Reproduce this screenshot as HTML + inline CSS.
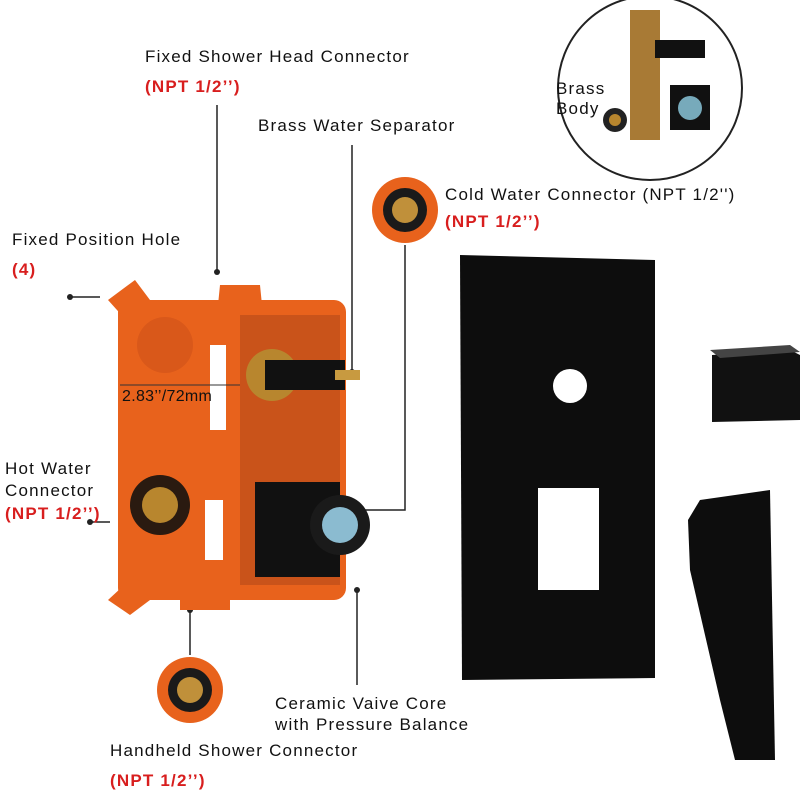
<!DOCTYPE html>
<html><head><meta charset="utf-8"><style>
body{margin:0;width:800px;height:800px;background:#fff;overflow:hidden;font-family:"Liberation Sans",sans-serif;}
.t{position:absolute;font-size:17px;color:#111;white-space:nowrap;letter-spacing:1.2px}
.r{color:#d81e1e;font-weight:bold}
</style></head><body>
<svg width="800" height="800" style="position:absolute;left:0;top:0">
 <g stroke="#222" stroke-width="1.5" fill="none">
  <line x1="217" y1="105" x2="217" y2="270"/>
  <line x1="352" y1="145" x2="352" y2="370"/>
  <line x1="70" y1="297" x2="100" y2="297"/>
  <line x1="90" y1="522" x2="110" y2="522"/>
  <polyline points="405,245 405,510 340,510"/>
  <line x1="190" y1="612" x2="190" y2="655"/>
  <line x1="357" y1="590" x2="357" y2="685"/>
 </g>
 <g fill="#222"><circle cx="217" cy="272" r="3"/><circle cx="352" cy="372" r="3"/><circle cx="70" cy="297" r="3"/><circle cx="357" cy="590" r="3"/><circle cx="190" cy="610" r="3"/><circle cx="90" cy="522" r="3"/></g>
 <g fill="#e8621c">
  <rect x="118" y="300" width="228" height="300" rx="12"/>
  <polygon points="108,300 135,280 150,300 135,330"/>
  <polygon points="220,285 260,285 262,305 218,305"/>
  <polygon points="108,600 135,575 150,600 130,615"/>
  <rect x="180" y="585" width="50" height="25"/>
 </g>
 <rect x="240" y="315" width="100" height="270" fill="#c9531a"/>
 <circle cx="165" cy="345" r="28" fill="#d9581a"/>
 <circle cx="160" cy="505" r="30" fill="#2a1a10"/><circle cx="160" cy="505" r="18" fill="#b8862e"/>
 <circle cx="272" cy="375" r="26" fill="#b8862e"/>
 <rect x="265" y="360" width="80" height="30" fill="#111"/>
 <rect x="335" y="370" width="25" height="10" fill="#c89a40"/>
 <rect x="255" y="482" width="85" height="95" fill="#111"/>
 <circle cx="340" cy="525" r="30" fill="#1a1a1a"/><circle cx="340" cy="525" r="18" fill="#8bbbd0"/>
 <rect x="210" y="345" width="16" height="85" fill="#fff"/>
 <rect x="205" y="500" width="18" height="60" fill="#fff"/>
 <line x1="120" y1="385" x2="240" y2="385" stroke="#333"/>
 <circle cx="405" cy="210" r="33" fill="#e8621c"/><circle cx="405" cy="210" r="22" fill="#1a1a1a"/><circle cx="405" cy="210" r="13" fill="#c0903a"/>
 <circle cx="190" cy="690" r="33" fill="#e8621c"/><circle cx="190" cy="690" r="22" fill="#1a1a1a"/><circle cx="190" cy="690" r="13" fill="#c0903a"/>
 <polygon points="460,255 655,260 655,678 462,680" fill="#0d0d0d"/>
 <circle cx="570" cy="386" r="17" fill="#fff"/>
 <rect x="538" y="488" width="61" height="102" fill="#fff"/>
 <polygon points="712,355 790,350 800,355 800,420 712,422" fill="#111"/>
 <polygon points="710,350 790,345 800,352 720,358" fill="#444"/>
 <polygon points="688,520 700,500 770,490 775,760 735,760 720,700 690,570" fill="#0d0d0d"/>
 <circle cx="650" cy="88" r="92" fill="#fff" stroke="#222" stroke-width="2"/>
 <rect x="630" y="10" width="30" height="130" fill="#a87a35"/>
 <rect x="655" y="40" width="50" height="18" fill="#111"/>
 <rect x="670" y="85" width="40" height="45" fill="#111"/>
 <circle cx="690" cy="108" r="12" fill="#7ab"/>
 <circle cx="615" cy="120" r="12" fill="#222"/><circle cx="615" cy="120" r="6" fill="#b8862e"/>
</svg>
<div class="t" style="left:145px;top:47px">Fixed Shower Head Connector</div>
<div class="t r" style="left:145px;top:77px">(NPT 1/2’’)</div>
<div class="t" style="left:258px;top:116px">Brass Water Separator</div>
<div class="t" style="left:12px;top:230px">Fixed Position Hole</div>
<div class="t r" style="left:12px;top:260px">(4)</div>
<div class="t" style="left:445px;top:185px">Cold Water Connector (NPT 1/2'')</div>
<div class="t r" style="left:445px;top:212px">(NPT 1/2’’)</div>
<div class="t" style="left:5px;top:459px">Hot Water</div>
<div class="t" style="left:5px;top:481px">Connector</div>
<div class="t r" style="left:5px;top:504px">(NPT 1/2’’)</div>
<div class="t" style="left:122px;top:388px;font-size:16px;letter-spacing:0.3px">2.83’’/72mm</div>
<div class="t" style="left:275px;top:694px">Ceramic Vaive Core</div>
<div class="t" style="left:275px;top:715px">with Pressure Balance</div>
<div class="t" style="left:110px;top:741px">Handheld Shower Connector</div>
<div class="t r" style="left:110px;top:771px">(NPT 1/2’’)</div>
<div class="t" style="left:556px;top:79px">Brass</div>
<div class="t" style="left:556px;top:99px">Body</div>
</body></html>
